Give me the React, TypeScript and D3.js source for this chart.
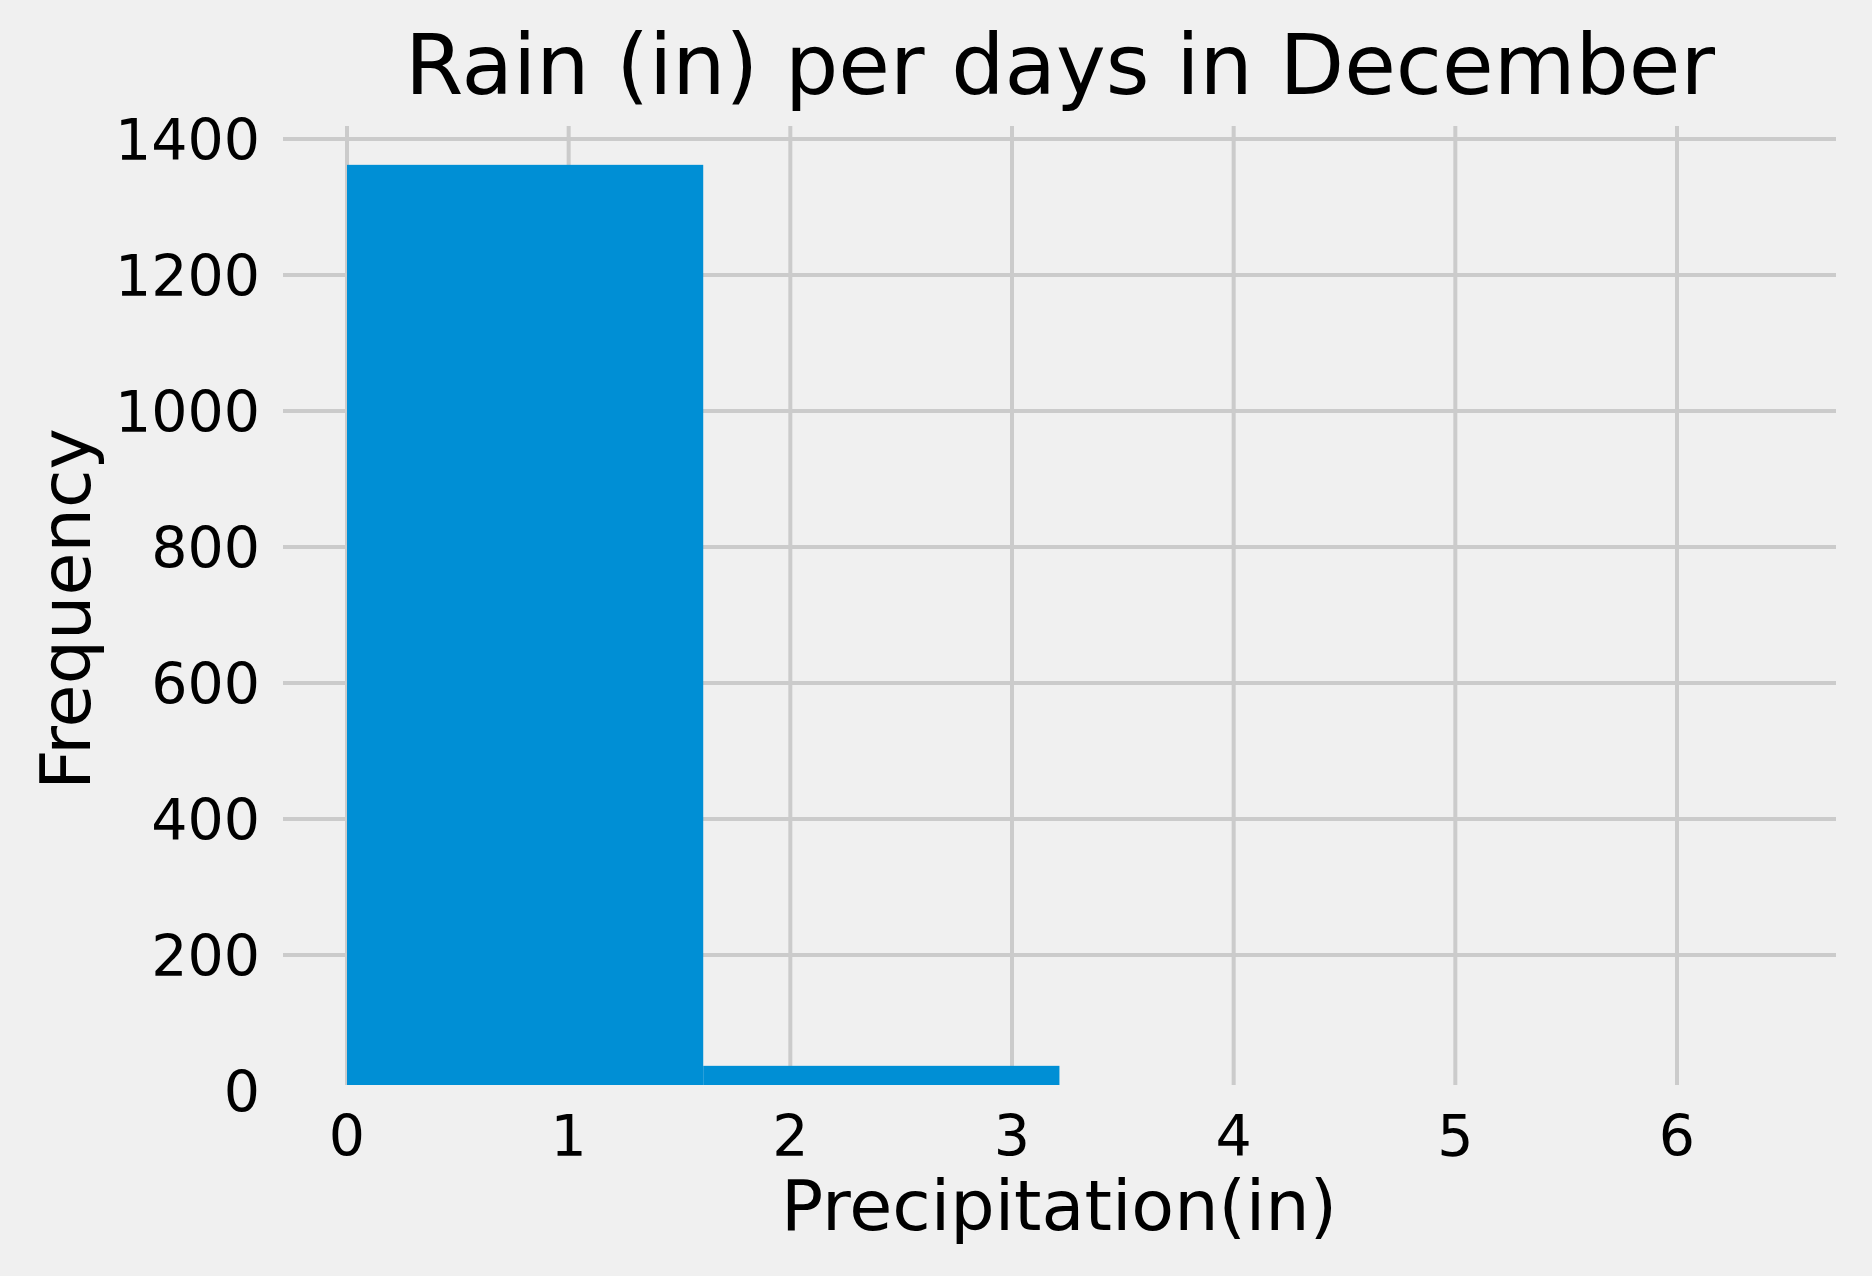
import React from "react";
import * as d3 from "d3";

// histogram of December rain
const binEdges = [0, 1.607, 3.214, 4.821, 6.428];
const counts = [1362, 37, 2, 1];
const xTicks = [0, 1, 2, 3, 4, 5, 6];
const yTicks = [0, 200, 400, 600, 800, 1000, 1200, 1400];

const W = 1872;
const H = 1276;
const plot = { left: 283, right: 1836, top: 126, bottom: 1085 };

const App = () => {
  const x = d3.scaleLinear().domain([0, 6]).range([347, 1677]);
  const y = d3.scaleLinear().domain([0, 1400]).range([1091, 139]);

  const bins = counts.map((c, i) => ({ x0: binEdges[i], x1: binEdges[i + 1], count: c }));
  const font = "'DejaVu Sans', sans-serif";

  return (
    <svg
      width={W}
      height={H}
      style={{ position: "absolute", left: 0, top: 0, background: "#f0f0f0" }}
      fontFamily={font}
    >
      <defs>
        <clipPath id="plotClip">
          <rect
            x={plot.left}
            y={plot.top}
            width={plot.right - plot.left}
            height={plot.bottom - plot.top}
          />
        </clipPath>
      </defs>
      <rect x={0} y={0} width={W} height={H} fill="#f0f0f0" />

      {/* grid */}
      <g clipPath="url(#plotClip)" stroke="#cbcbcb" strokeWidth={4}>
        {yTicks.map((t) => (
          <line key={"gy" + t} x1={plot.left} x2={plot.right} y1={y(t)} y2={y(t)} />
        ))}
        {xTicks.map((t) => (
          <line key={"gx" + t} x1={x(t)} x2={x(t)} y1={plot.top} y2={plot.bottom} />
        ))}
      </g>

      {/* bars */}
      <g clipPath="url(#plotClip)">
        {bins.map((b, i) => (
          <rect
            key={i}
            x={x(b.x0)}
            width={x(b.x1) - x(b.x0)}
            y={y(b.count)}
            height={y(0) - y(b.count)}
            fill="#008fd5"
          />
        ))}
      </g>

      {/* y tick labels */}
      {yTicks.map((t) => (
        <text
          key={"ty" + t}
          x={260}
          y={y(t)}
          dy="0.36em"
          textAnchor="end"
          fontSize={57}
          fill="#000"
        >
          {t}
        </text>
      ))}

      {/* x tick labels */}
      {xTicks.map((t) => (
        <text
          key={"tx" + t}
          x={x(t)}
          y={1156}
          textAnchor="middle"
          fontSize={57}
          fill="#000"
        >
          {t}
        </text>
      ))}

      <text x={1059} y={1230} textAnchor="middle" fontSize={70} fill="#000">
        Precipitation(in)
      </text>
      <text
        transform={`translate(90,609) rotate(-90)`}
        textAnchor="middle"
        fontSize={70}
        fill="#000"
      >
        Frequency
      </text>
      <text x={1060} y={94} textAnchor="middle" fontSize={84} fill="#000">
        Rain (in) per days in December
      </text>
    </svg>
  );
};

export default App;
